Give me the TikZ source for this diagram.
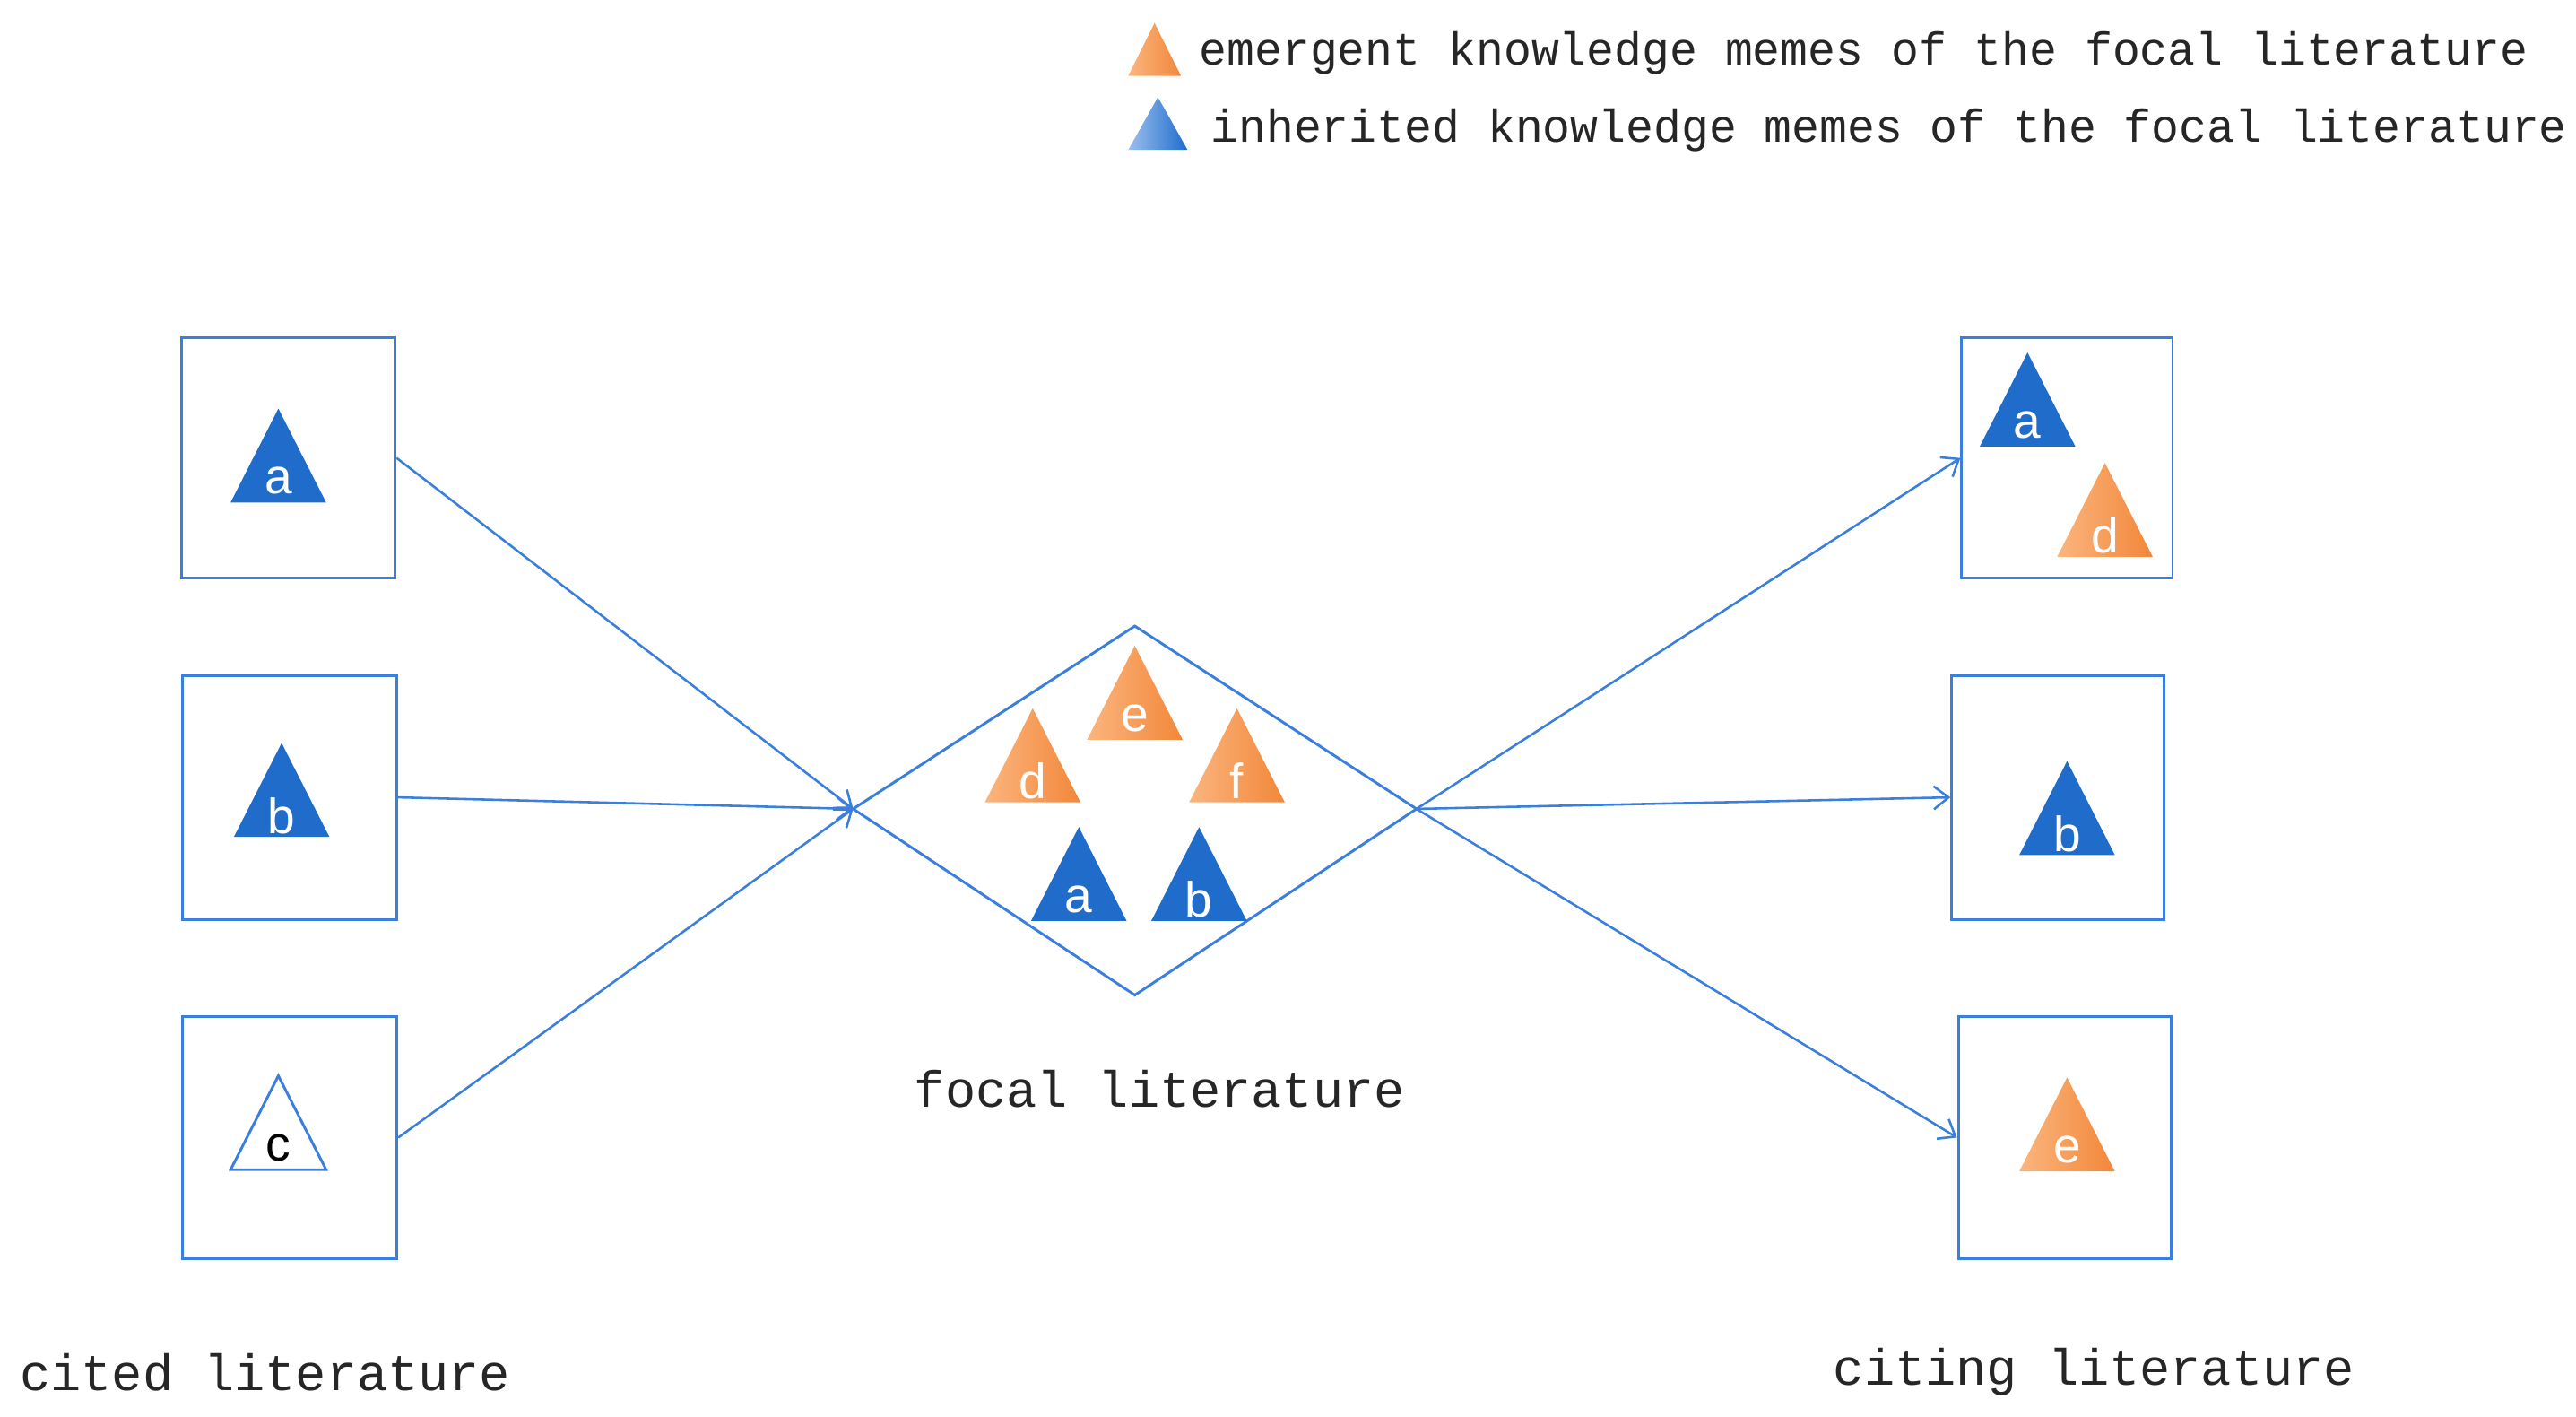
\documentclass[tikz,border=0pt]{standalone}
\usepackage{fontspec}
\setmainfont{Liberation Sans}
\newfontfamily\mono{Liberation Mono}
\begin{document}
\begin{tikzpicture}[x=1pt,y=-1pt,
  box/.style={draw=lineblue,line width=1.6pt,inner sep=0pt},
  conn/.style={draw=lineblue,line width=1.4pt,-{Straight Barb[length=9pt,width=14pt]}},
  lbl/.style={font=\mono\fontsize{31}{31}\selectfont,text=black!85,anchor=west,inner sep=0pt},
  leg/.style={font=\mono\fontsize{28}{28}\selectfont,text=black!85,anchor=west,inner sep=0pt}]
\usetikzlibrary{arrows.meta}
\definecolor{lineblue}{HTML}{3A7FDC}
\definecolor{darkblue}{HTML}{1F6CCB}
\definecolor{orL}{HTML}{FBB57E}
\definecolor{orR}{HTML}{F2873A}
\useasboundingbox (0,0) rectangle (1564,860);
% triangles: #1 x, #2 apex y, #3 letter
\newcommand\memeB[3]{\fill[darkblue] (#1,#2) -- ++(29,57) -- ++(-58,0) -- cycle;
  \node[text=white,font=\fontsize{30}{30}\selectfont,inner sep=0pt] at (#1,#2+44) {#3};}
\newcommand\memeO[3]{\shade[left color=orL,right color=orR] (#1,#2) -- ++(29,57) -- ++(-58,0) -- cycle;
  \node[text=white,font=\fontsize{30}{30}\selectfont,inner sep=0pt] at (#1,#2+44) {#3};}
% legend
\shade[left color=orL,right color=orR] (701,14) -- ++(16,32) -- ++(-32,0) -- cycle;
\node[leg] (l1) at (728,32) {emergent knowledge memes of the focal literature};
\shade[left color=lineblue!50,right color=darkblue] (703,59) -- ++(18,32) -- ++(-36,0) -- cycle;
\node[leg] (l2) at (735,79) {inherited knowledge memes of the focal literature};
% boxes
\node[box,minimum width=130pt,minimum height=146pt] (c1) at (175,278) {};
\node[box,minimum width=130pt,minimum height=148pt] (c2) at (176,484) {};
\node[box,minimum width=130pt,minimum height=147pt] (c3) at (176,690.5) {};
\node[box,minimum width=128pt,minimum height=146pt] (t1) at (1255,278) {};
\node[box,minimum width=129pt,minimum height=148pt] (t2) at (1249.5,484) {};
\node[box,minimum width=129pt,minimum height=147pt] (t3) at (1253.5,690.5) {};
% diamond
\coordinate (dl) at (518,491); \coordinate (dr) at (860,491);
\coordinate (dt) at (689,380); \coordinate (db) at (689,604);
\draw[lineblue,line width=1.6pt] (dl) -- (dt) -- (dr) -- (db) -- cycle;
% memes
\memeB{169}{248}{a}
\memeB{171}{451}{b}
\draw[lineblue,line width=1.6pt,fill=white] (169,653) -- ++(29,57) -- ++(-58,0) -- cycle;
\node[text=black,font=\fontsize{30}{30}\selectfont,inner sep=0pt] at (169,697) {c};
\memeO{689}{392}{e}
\memeO{627}{430}{d}
\memeO{751}{430}{f}
\memeB{655}{502}{a}
\memeB{728}{502}{b}
\memeB{1231}{214}{a}
\memeO{1278}{281}{d}
\memeB{1255}{462}{b}
\memeO{1255}{654}{e}
% connectors
\draw[conn] (c1.east) -- (dl);
\draw[conn] (c2.east) -- (dl);
\draw[conn] (c3.east) -- (dl);
\draw[conn] (dr) -- (t1.west);
\draw[conn] (dr) -- (t2.west);
\draw[conn] (dr) -- (t3.west);
% labels
\node[lbl] (fl) at (555,661) {focal literature};
\node[lbl] (cl) at (12,833) {cited literature};
\node[lbl] (tl) at (1113,833) {citing literature};
\end{tikzpicture}
\end{document}
